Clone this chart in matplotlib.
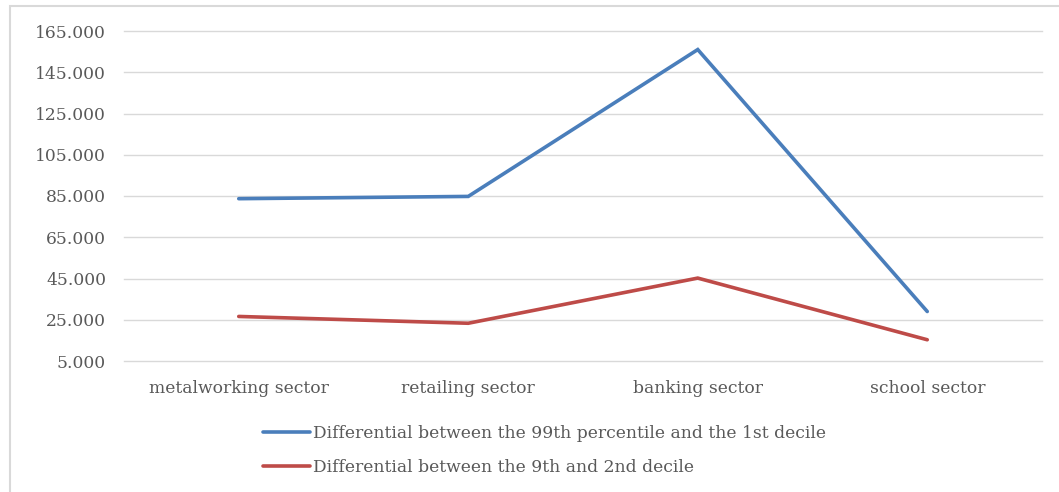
import matplotlib
matplotlib.use("Agg")
import matplotlib.pyplot as plt
from matplotlib.ticker import FuncFormatter
from matplotlib.patches import Rectangle

categories = ["metalworking sector", "retailing sector", "banking sector", "school sector"]
series_names = [
    "Differential between the 99th percentile and the 1st decile",
    "Differential between the 9th and 2nd decile",
]
p99_d1 = [83700, 84800, 156000, 29000]
d9_d2 = [26600, 23300, 45200, 15300]
y_ticks = [5000, 25000, 45000, 65000, 85000, 105000, 125000, 145000, 165000]

W, H = 1059, 492
plt.rcParams["font.family"] = ["DejaVu Serif"]
fig = plt.figure(figsize=(W / 100, H / 100), dpi=100)
text_color = "#595959"
fs = 12.3

# outer chart border (right and bottom edges run past the canvas)
fig.patches.append(Rectangle((10 / W, -0.5), 1.2, 1.5 - 6 / H, transform=fig.transFigure,
                             fill=False, edgecolor="#d9d9d9", linewidth=1.5))

ax = fig.add_axes([124 / W, 1 - 361 / H, (1042 - 124) / W, (361 - 31) / H])
x = range(len(categories))
l1, = ax.plot(x, p99_d1, color="#4a7ebb", linewidth=2.6, solid_capstyle="round",
              solid_joinstyle="miter")
l2, = ax.plot(x, d9_d2, color="#be4b48", linewidth=2.6, solid_capstyle="round",
              solid_joinstyle="miter")

ax.set_xlim(-0.5, len(categories) - 0.5)
ax.set_ylim(y_ticks[0], y_ticks[-1])
ax.set_yticks(y_ticks)
ax.yaxis.set_major_formatter(FuncFormatter(lambda v, p: f"{v:,.0f}".replace(",", ".")))
ax.set_xticks(list(x))
ax.set_xticklabels(categories)
ax.grid(axis="y", color="#d9d9d9", linewidth=1)
for gl in ax.get_ygridlines():
    gl.set_clip_on(False)
ax.set_axisbelow(True)
for s in ax.spines.values():
    s.set_visible(False)
ax.tick_params(axis="both", length=0, labelsize=fs, labelcolor=text_color)
ax.tick_params(axis="y", pad=13)
ax.tick_params(axis="x", pad=14)

fig.legend([l1, l2], series_names, loc="upper left",
           bbox_to_anchor=(256 / W, 1 - 418 / H), frameon=False,
           fontsize=fs, labelcolor=text_color, handlelength=2.75, handletextpad=0.18,
           labelspacing=0.98, borderaxespad=0)

fig.savefig("out.png", dpi=100)
